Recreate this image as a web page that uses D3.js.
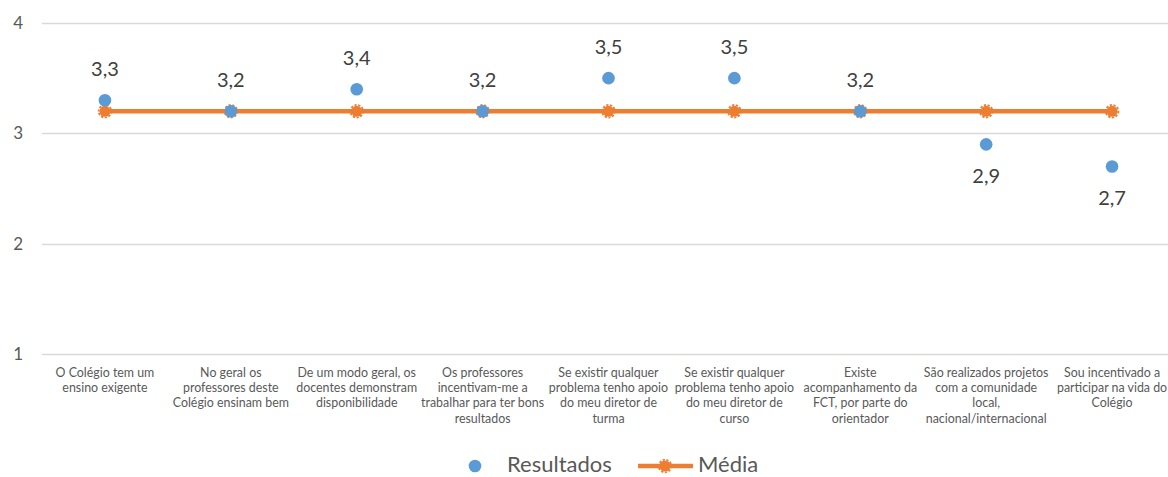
<!DOCTYPE html>
<html lang="pt">
<head>
<meta charset="UTF-8" />
<title>Resultados vs Média</title>
<style>
    html, body { margin: 0; background: #fff; }
    svg { display: block; font-family: Lato, "Open Sans", sans-serif; }
    .grid line { stroke: #d9d9d9; stroke-width: 1.3px; }
    .ytick { fill: #595959; font-size: 17px; }
    .cat { fill: #595959; font-size: 12.4px; }
    .dlabel { fill: #404040; font-size: 20px; }
    .legend text { fill: #595959; font-size: 22px; }
</style>
</head>
<body>
<div id="chart"></div>
<script src="https://cdn.jsdelivr.net/npm/d3@7"></script>
<script>
const categories = [
    "O Colégio tem um\nensino exigente",
    "No geral os\nprofessores deste\nColégio ensinam bem",
    "De um modo geral, os\ndocentes demonstram\ndisponibilidade",
    "Os professores\nincentivam-me a\ntrabalhar para ter bons\nresultados",
    "Se existir qualquer\nproblema tenho apoio\ndo meu diretor de\nturma",
    "Se existir qualquer\nproblema tenho apoio\ndo meu diretor de\ncurso",
    "Existe\nacompanhamento da\nFCT, por parte do\norientador",
    "São realizados projetos\ncom a comunidade\nlocal,\nnacional/internacional",
    "Sou incentivado a\nparticipar na vida do\nColégio"
];
const resultados = [3.3, 3.2, 3.4, 3.2, 3.5, 3.5, 3.2, 2.9, 2.7];
const media = [3.2, 3.2, 3.2, 3.2, 3.2, 3.2, 3.2, 3.2, 3.2];
const yTicks = [1, 2, 3, 4];
const seriesNames = ["Resultados", "Média"];

const blue = "#5b9bd5";
const orange = "#ed7d31";

const width = 1168;
const height = 477;

const svg = d3.select("#chart").append("svg")
    .attr("width", width)
    .attr("height", height);

const x = d3.scaleBand().domain(categories).range([42, 1175]);
const y = d3.scaleLinear().domain([1, 4]).range([354, 23]);
const cx = c => x(c) + x.bandwidth() / 2;

// grid
svg.append("g").attr("class", "grid")
    .selectAll("line").data(yTicks).enter().append("line")
    .attr("x1", 42).attr("x2", width)
    .attr("y1", d => Math.round(y(d)) + 0.5).attr("y2", d => Math.round(y(d)) + 0.5);

svg.append("g").selectAll("text").data(yTicks).enter().append("text")
    .attr("class", "ytick")
    .attr("x", 23).attr("y", d => y(d) + 6)
    .attr("text-anchor", "end")
    .text(d => d);

// category labels
const cats = svg.append("g").selectAll("text").data(categories).enter().append("text")
    .attr("class", "cat")
    .attr("text-anchor", "middle")
    .attr("x", d => cx(d))
    .attr("y", 377);
cats.each(function (d) {
    const t = d3.select(this);
    d.split("\n").forEach((line, i) => {
        t.append("tspan").attr("x", cx(d)).attr("dy", i === 0 ? 0 : 15.2).text(line);
    });
});

// média line
const line = d3.line().x((d, i) => cx(categories[i])).y(d => y(d));
svg.append("path").datum(media)
    .attr("fill", "none")
    .attr("stroke", orange)
    .attr("stroke-width", 4.5)
    .attr("d", line);

function mediaMarker(sel) {
    sel.append("circle").attr("r", 5.5).attr("fill", orange);
    sel.append("circle").attr("r", 6.3).attr("fill", "none")
        .attr("stroke", orange).attr("stroke-width", 1.8)
        .attr("stroke-dasharray", "2.2,1.6");
}

svg.append("g").selectAll("g").data(media).enter().append("g")
    .attr("transform", (d, i) => `translate(${cx(categories[i])},${y(d)})`)
    .call(mediaMarker);

// resultados points
svg.append("g").selectAll("circle").data(resultados).enter().append("circle")
    .attr("cx", (d, i) => cx(categories[i]))
    .attr("cy", d => y(d))
    .attr("r", 6.3)
    .attr("fill", blue);

svg.append("g").selectAll("text").data(resultados).enter().append("text")
    .attr("class", "dlabel")
    .attr("text-anchor", "middle")
    .attr("x", (d, i) => cx(categories[i]))
    .attr("y", d => d >= 3.2 ? y(d) - 24 : y(d) + 39)
    .text(d => d3.format(".1f")(d).replace(".", ","));

// legend
const legend = svg.append("g").attr("class", "legend");
legend.append("circle").attr("cx", 475).attr("cy", 466).attr("r", 6.3).attr("fill", blue);
legend.append("text").attr("x", 507).attr("y", 472).text(seriesNames[0]);
legend.append("line").attr("x1", 638).attr("x2", 693).attr("y1", 466).attr("y2", 466)
    .attr("stroke", orange).attr("stroke-width", 4.5);
legend.append("g").attr("transform", "translate(665,466)").call(mediaMarker);
legend.append("text").attr("x", 698).attr("y", 472).text(seriesNames[1]);
</script>
</body>
</html>
